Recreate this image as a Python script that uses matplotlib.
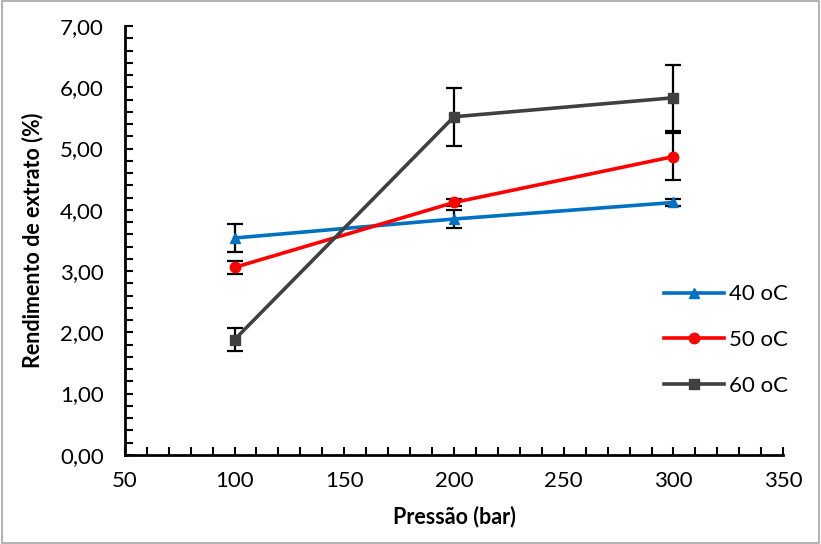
import numpy as np
import matplotlib.pyplot as plt
from matplotlib.ticker import MultipleLocator, FuncFormatter
from matplotlib.patches import Rectangle
from matplotlib.lines import Line2D

plt.rcParams['font.family'] = ['Lato', 'DejaVu Sans']

pressao = [100, 200, 300]
rend_40 = [3.54, 3.85, 4.12]
err_40 = [0.23, 0.14, 0.06]
rend_50 = [3.06, 4.12, 4.87]
err_50 = [0.10, 0.05, 0.38]
rend_60 = [1.88, 5.52, 5.83]
err_60 = [0.19, 0.47, 0.54]
series = [('40 oC', rend_40, err_40, '#0070C0', '^'),
          ('50 oC', rend_50, err_50, '#FF0000', 'o'),
          ('60 oC', rend_60, err_60, '#404040', 's')]

fig = plt.figure(figsize=(8.21, 5.44), dpi=100)
ax = fig.add_axes([0.152, 0.164, 0.802, 0.788])

handles = []
for nome, y, e, cor, mk in series:
    ax.errorbar(pressao, y, yerr=e, color=cor, marker=mk, markersize=7.5,
                linewidth=2.6, ecolor='black', elinewidth=1.6, capsize=6,
                capthick=1.6)
    handles.append(Line2D([], [], color=cor, marker=mk, markersize=7.5,
                          linewidth=2.6, label=nome))

ax.set_xlim(50, 350)
ax.set_ylim(0, 7)
ax.xaxis.set_major_locator(MultipleLocator(50))
ax.xaxis.set_minor_locator(MultipleLocator(10))
ax.yaxis.set_major_locator(MultipleLocator(1))
ax.yaxis.set_minor_locator(MultipleLocator(0.2))
ax.yaxis.set_major_formatter(FuncFormatter(lambda v, p: f'{v:.2f}'.replace('.', ',')))

for s in ['top', 'right']:
    ax.spines[s].set_visible(False)
for s in ['left', 'bottom']:
    ax.spines[s].set_linewidth(2)
ax.tick_params(which='both', direction='in', width=1.5, labelsize=16, length=6)
ax.tick_params(axis='y', pad=15)
ax.tick_params(axis='x', pad=12)

ax.set_xlabel('Pressão (bar)', fontsize=15.5, fontweight='bold', labelpad=10)
ax.set_ylabel('Rendimento de extrato (%)', fontsize=15.5, fontweight='bold', labelpad=12)

ax.legend(handles=handles, loc='upper left', bbox_to_anchor=(0.805, 0.418),
          frameon=False, fontsize=16, handlelength=2.7, labelspacing=1.15,
          handletextpad=0.25, borderaxespad=0)

fig.patches.append(Rectangle((0.002, 0.002), 0.996, 0.996, transform=fig.transFigure,
                             fill=False, edgecolor='#A6A6A6', linewidth=1.2))

fig.savefig('out.png', dpi=100)
